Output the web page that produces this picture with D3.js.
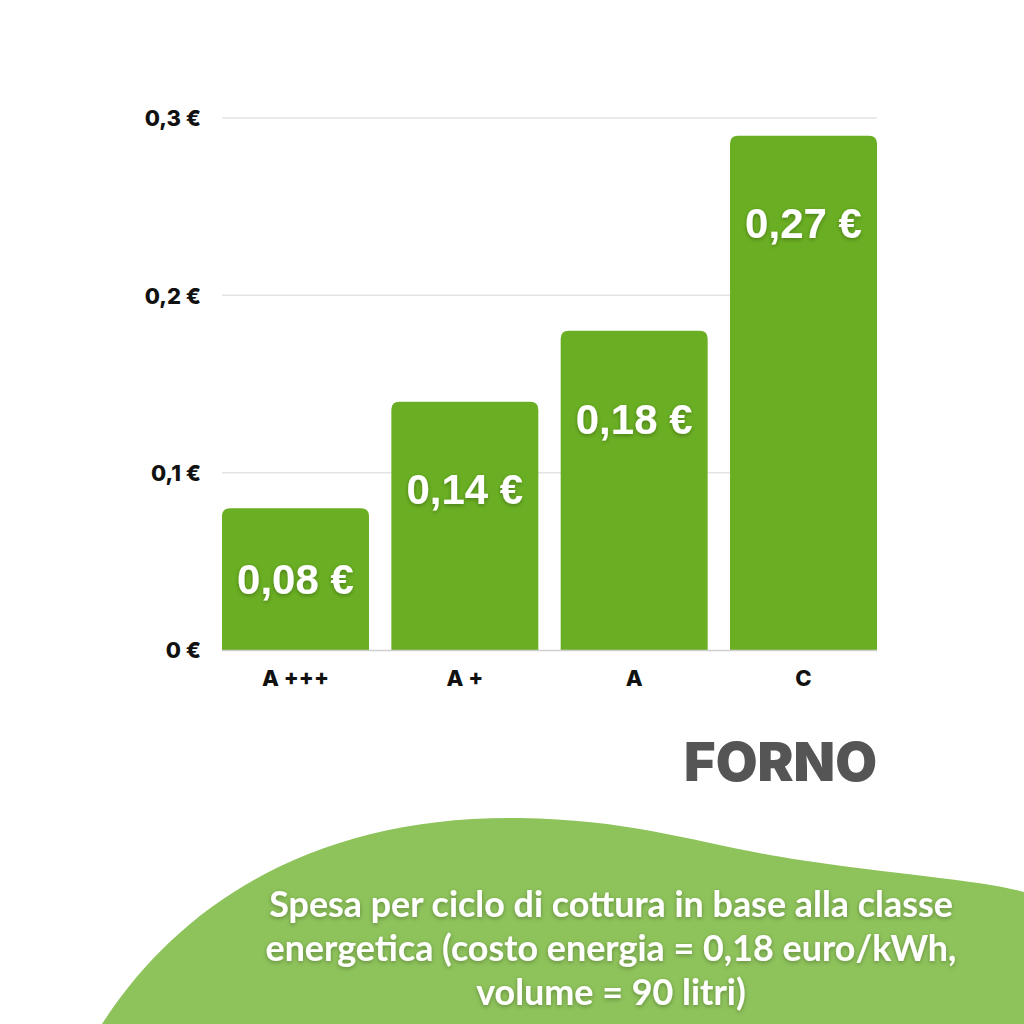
<!DOCTYPE html>
<html><head><meta charset="utf-8">
<script src="https://cdn.jsdelivr.net/npm/d3@7"></script>
<style>body{margin:0;background:#fff}svg{display:block}</style>
</head><body>
<svg id="c" width="1024" height="1024"></svg>
<script>
const categories = ["A +++", "A +", "A", "C"];
const values = [0.08, 0.14, 0.18, 0.29];
const valueLabels = ["0,08 €", "0,14 €", "0,18 €", "0,27 €"];
const tickValues = [0, 0.1, 0.2, 0.3];
const tickLabels = ["0 €", "0,1 €", "0,2 €", "0,3 €"];
const title = "FORNO";
const subtitleLines = ["Spesa per ciclo di cottura in base alla classe", "energetica (costo energia = 0,18 euro/kWh,", "volume = 90 litri)"];

const svg = d3.select("#c");
const defs = svg.append("defs");
const f = defs.append("filter").attr("id","sh").attr("x","-20%").attr("y","-20%").attr("width","140%").attr("height","140%");
f.append("feDropShadow").attr("dx",0).attr("dy",1.5).attr("stdDeviation",2).attr("flood-color","#000").attr("flood-opacity",0.3);

// background blob
svg.append("path")
  .attr("d","M102,1024 C182,900 320,815 520,818 C640,820 700,845 800,860 C900,875 980,880 1024,892 L1024,1024 Z")
  .attr("fill","#8ec35b");

const x = d3.scaleBand().domain(categories).range([222, 877]).paddingInner(0.132).paddingOuter(0);
const y = d3.scaleLinear().domain([0, 0.3]).range([650, 118]);

// grid
svg.append("g").selectAll("line").data(tickValues.slice(1)).join("line")
  .attr("x1",222).attr("x2",877).attr("y1",d=>y(d)).attr("y2",d=>y(d))
  .attr("stroke","#e3e3e3").attr("stroke-width",1.5);

// y axis
const yAxis = d3.axisLeft(y).tickValues(tickValues).tickFormat((d,i)=>tickLabels[i]).tickSize(0).tickPadding(0);
const ya = svg.append("g").attr("transform","translate(201,0)").call(yAxis);
ya.select(".domain").remove();
ya.selectAll("text").attr("font-family","Inter, sans-serif").attr("font-weight",800).attr("font-size",22).attr("fill","#111").attr("dy","0.35em");

// bars with rounded top
const r = 8;
svg.append("g").selectAll("path").data(values).join("path")
  .attr("d",(d,i)=>{
    const x0 = x(categories[i]), w = x.bandwidth(), y0 = y(d), yb = y(0);
    return `M${x0},${yb} L${x0},${y0+r} Q${x0},${y0} ${x0+r},${y0} L${x0+w-r},${y0} Q${x0+w},${y0} ${x0+w},${y0+r} L${x0+w},${yb} Z`;
  })
  .attr("fill","#6aaf23");

// baseline
svg.append("line").attr("x1",222).attr("x2",877).attr("y1",y(0)+0.5).attr("y2",y(0)+0.5).attr("stroke","#cfcfcf").attr("stroke-width",1.5);

// value labels
svg.append("g").selectAll("text").data(values).join("text")
  .attr("x",(d,i)=>x(categories[i])+x.bandwidth()/2)
  .attr("y",d=>Math.min(y(d)+88, (y(d)+y(0))/2))
  .attr("dy","0.35em")
  .attr("text-anchor","middle")
  .attr("font-family","'Liberation Sans', Arial, sans-serif").attr("font-weight",700).attr("font-size",42)
  .attr("fill","#fff").attr("filter","url(#sh)")
  .text((d,i)=>valueLabels[i]);

// x axis
const xAxis = d3.axisBottom(x).tickSize(0).tickPadding(0);
const xa = svg.append("g").attr("transform","translate(0,678)").call(xAxis);
xa.select(".domain").remove();
xa.selectAll("text").attr("font-family","Inter, sans-serif").attr("font-weight",800).attr("font-size",22).attr("fill","#111").attr("dy","0.35em");

// title
svg.append("text").attr("x",877).attr("y",781).attr("text-anchor","end")
  .attr("font-family","Inter, sans-serif").attr("font-weight",900).attr("font-size",54)
  .attr("fill","#555").text(title);

// subtitle
const sub = svg.append("g").selectAll("text").data(subtitleLines).join("text")
  .attr("x",611).attr("y",(d,i)=>917+i*44).attr("text-anchor","middle")
  .attr("font-family","Lato, sans-serif").attr("font-weight",700).attr("font-size",30)
  .attr("fill","#fff").attr("filter","url(#sh)").text(d=>d);
const w0 = sub.node().getComputedTextLength();
sub.attr("font-size", 30*684/w0);
</script>
</body></html>
